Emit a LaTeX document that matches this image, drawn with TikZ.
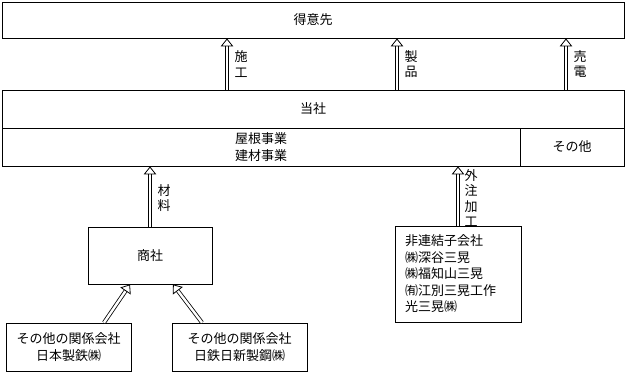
\documentclass[tikz,border=0pt]{standalone}
\usepackage{fontspec}
\setmainfont{Noto Sans CJK JP}
\usetikzlibrary{arrows.meta}

\begin{document}
\begin{tikzpicture}[x=1pt,y=-1pt,
  font=\fontsize{13}{16.5}\selectfont,
  box/.style={draw,line width=0.8pt,inner sep=0pt,align=center},
  hollow/.style={draw,double,double distance=2.4pt,line width=0.8pt,
    -{Triangle[open,length=8pt,width=12.5pt,line width=0.8pt]}},
  vlabel/.style={align=center,inner sep=0pt,font=\fontsize{13}{15.5}\selectfont}]
\useasboundingbox (0,0) rectangle (626,381);
% customers and company
\node[box,minimum width=622pt,minimum height=36pt] (tokui) at (313,20) {得意先};
\node[box,minimum width=622pt,minimum height=38pt] (tosha) at (313,109) {当社};
\node[box,minimum width=518pt,minimum height=38pt] (yane) at (261,147) {屋根事業\\建材事業};
\node[box,minimum width=104pt,minimum height=38pt] (sonota) at (572,147) {その他};
% suppliers
\node[box,minimum width=124pt,minimum height=57pt] (shosha) at (150,255.5) {商社};
\node[box,minimum width=125pt,minimum height=48pt] (nippon) at (68.5,347) {その他の関係会社\\日本製鉄㈱};
\node[box,minimum width=135pt,minimum height=48pt] (nisshin) at (239.5,347) {その他の関係会社\\日鉄日新製鋼㈱};
\node[box,text width=106pt,inner xsep=10pt,minimum height=96pt,align=left] (hiren) at (458,274)
  {非連結子会社\\㈱深谷三晃\\㈱福知山三晃\\㈲江別三晃工作\\光三晃㈱};
% flows to customers
\draw[hollow] (tosha.north -| 227,0) -- (tokui.south -| 227,0);
\draw[hollow] (tosha.north -| 397,0) -- (tokui.south -| 397,0);
\draw[hollow] (tosha.north -| 566,0) -- (tokui.south -| 566,0);
\node[vlabel] (sekou) at (241,64) {施\\工};
\node[vlabel] (seihin) at (411,64) {製\\品};
\node[vlabel] (baiden) at (580,64) {売\\電};
% flows into the company
\draw[hollow] (shosha.north) -- (yane.south -| shosha.north);
\draw[hollow] (hiren.north) -- (yane.south -| hiren.north);
\node[vlabel] (zairyo) at (164,198) {材\\料};
\node[vlabel] (gaichu) at (471,198) {外\\注\\加\\工};
\draw[hollow] ([xshift=35.5pt]nippon.north) -- ([xshift=-20pt]shosha.south);
\draw[hollow] ([xshift=-37.5pt]nisshin.north) -- ([xshift=23pt]shosha.south);
\end{tikzpicture}
\end{document}
